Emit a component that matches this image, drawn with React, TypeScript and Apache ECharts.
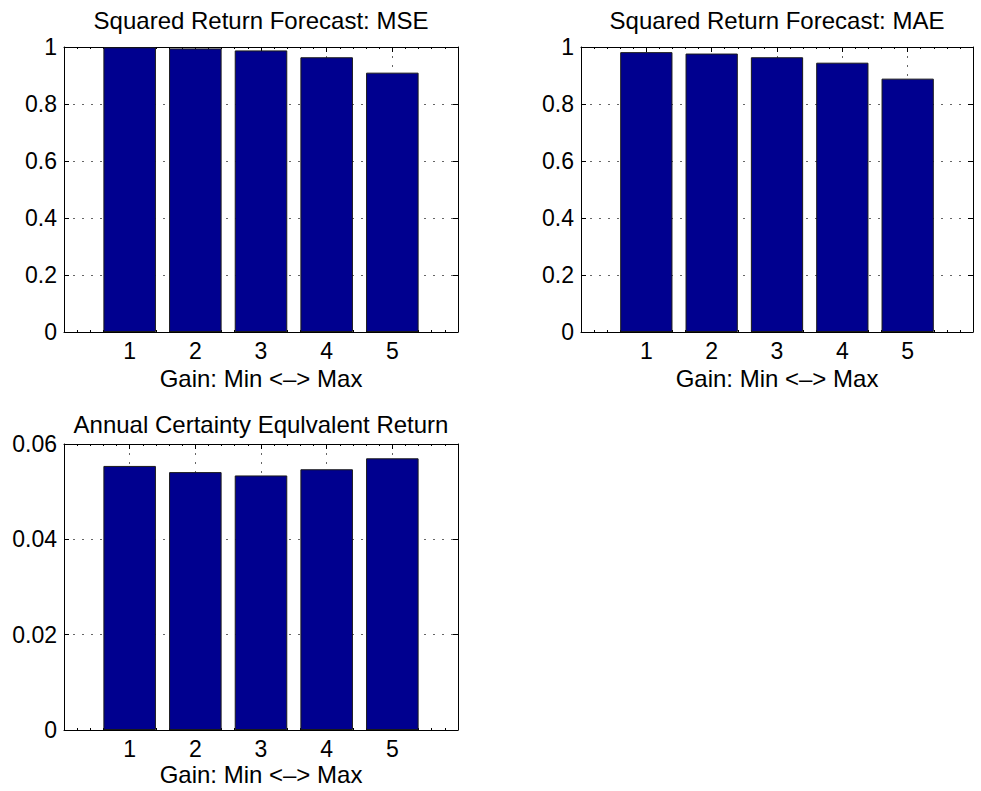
import React, { useEffect, useRef } from "react";
import * as echarts from "echarts";

const categories = [1, 2, 3, 4, 5];
const mseValues = [0.999, 0.995, 0.988, 0.964, 0.91];
const maeValues = [0.982, 0.977, 0.964, 0.945, 0.889];
const ceqValues = [0.0554, 0.0541, 0.0534, 0.0547, 0.057];
const titles = [
  "Squared Return Forecast: MSE",
  "Squared Return Forecast: MAE",
  "Annual Certainty Equlvalent Return",
];
const xLabel = "Gain: Min <\u2013> Max";
const yMaxes = [1, 1, 0.06];
const yIntervals = [0.2, 0.2, 0.02];

const FONT = "Liberation Sans, Arial, Helvetica, sans-serif";

export default function App() {
  const ref = useRef<HTMLDivElement>(null);
  useEffect(() => {
    if (!ref.current) return;
    const chart = echarts.init(ref.current, undefined, { renderer: "svg" });
    const seriesValues = [mseValues, maeValues, ceqValues];
    const layout = [
      { left: 64, top: 47, width: 394, height: 285, titleY: 20, labelY: 378 },
      { left: 581, top: 47, width: 392, height: 285, titleY: 20, labelY: 378 },
      { left: 64, top: 444, width: 394, height: 286, titleY: 424, labelY: 774 },
    ];
    const grids: any[] = [];
    const xAxes: any[] = [];
    const yAxes: any[] = [];
    const series: any[] = [];
    const graphics: any[] = [];
    const dotted = { color: "#666", width: 1, type: [2, 7] };
    const black = { color: "#000", width: 1 };
    layout.forEach((l, i) => {
      grids.push({ left: l.left, top: l.top, width: l.width, height: l.height, containLabel: false });
      const fmtY = (v: number) => String(+v.toFixed(3));
      xAxes.push({
        type: "value",
        gridIndex: i,
        position: "bottom",
        min: 0,
        max: 6,
        interval: 1,
        axisLine: { show: true, onZero: false, lineStyle: black },
        axisTick: { show: true, inside: true, length: 5, lineStyle: black },
        minorTick: { show: true, splitNumber: 5, length: 2, lineStyle: { color: "#000", width: 1 } },
        axisLabel: {
          showMinLabel: false,
          showMaxLabel: false,
          margin: 7,
          color: "#000",
          fontSize: 23,
          fontFamily: FONT,
          formatter: (v: number) => (categories.includes(v) ? String(v) : ""),
        },
        splitLine: { show: true, lineStyle: dotted },
      });
      xAxes.push({
        type: "value",
        gridIndex: i,
        position: "top",
        min: 0,
        max: 6,
        interval: 1,
        axisLine: { show: true, onZero: false, lineStyle: black },
        axisTick: { show: true, inside: true, length: 5, lineStyle: black },
        minorTick: { show: true, splitNumber: 5, length: 2, lineStyle: { color: "#000", width: 1 } },
        axisLabel: { show: false },
        splitLine: { show: false },
      });
      yAxes.push({
        type: "value",
        gridIndex: i,
        position: "left",
        min: 0,
        max: yMaxes[i],
        interval: yIntervals[i],
        axisLine: { show: true, onZero: false, lineStyle: black },
        axisTick: { show: true, inside: true, length: 5, lineStyle: black },
        axisLabel: { margin: 7, color: "#000", fontSize: 23, fontFamily: FONT, formatter: fmtY },
        splitLine: { show: true, lineStyle: dotted },
      });
      yAxes.push({
        type: "value",
        gridIndex: i,
        position: "right",
        min: 0,
        max: yMaxes[i],
        interval: yIntervals[i],
        axisLine: { show: true, onZero: false, lineStyle: black },
        axisTick: { show: true, inside: true, length: 5, lineStyle: black },
        axisLabel: { show: false },
        splitLine: { show: false },
      });
      series.push({
        type: "bar",
        xAxisIndex: 2 * i,
        yAxisIndex: 2 * i,
        barWidth: "80%",
        data: categories.map((c, j) => [c, seriesValues[i][j]]),
        itemStyle: { color: "#00008F", borderColor: "#1a1a1a", borderWidth: 1 },
      });
      const cx = l.left + l.width / 2;
      graphics.push({
        type: "text",
        x: cx,
        y: l.titleY,
        style: {
          text: titles[i],
          fill: "#000",
          fontSize: 24,
          fontFamily: FONT,
          textAlign: "center",
          textVerticalAlign: "middle",
        },
      });
      graphics.push({
        type: "text",
        x: cx,
        y: l.labelY,
        style: {
          text: xLabel,
          fill: "#000",
          fontSize: 24,
          fontFamily: FONT,
          textAlign: "center",
          textVerticalAlign: "middle",
        },
      });
    });
    chart.setOption({
      animation: false,
      backgroundColor: "#fff",
      grid: grids,
      xAxis: xAxes,
      yAxis: yAxes,
      series,
      graphic: graphics,
    });
    return () => chart.dispose();
  }, []);
  return (
    <div
      ref={ref}
      style={{ position: "absolute", left: 0, top: 0, width: 981, height: 791, background: "#fff" }}
    />
  );
}
